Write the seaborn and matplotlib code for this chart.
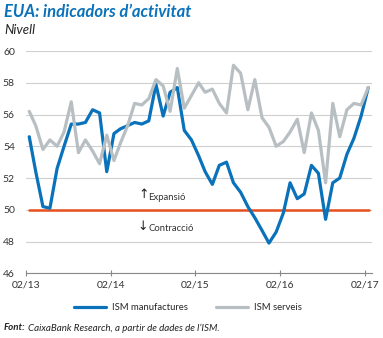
import matplotlib
matplotlib.use("Agg")
import matplotlib.pyplot as plt
import seaborn as sns
import pandas as pd
import numpy as np

# ---- data ----
start_month = "2013-02-01"
n_months = 49
manufactures = [54.6, 52.4, 50.2, 50.1, 52.6, 54.0, 55.4, 55.4, 55.5, 56.3, 56.1, 52.4,
                54.8, 55.1, 55.3, 55.5, 55.4, 55.6, 57.9, 55.9, 57.4, 57.7, 55.0, 54.4,
                53.4, 52.4, 51.6, 52.8, 53.0, 51.7, 51.1, 50.2, 49.5, 48.7, 47.9, 48.6,
                49.8, 51.7, 50.7, 51.0, 52.8, 52.3, 49.4, 51.7, 52.0, 53.5, 54.5, 55.9,
                57.7]
serveis = [56.2, 55.3, 53.8, 54.4, 54.0, 54.9, 56.8, 53.6, 54.4, 53.7, 52.9, 54.7,
           53.1, 54.2, 55.3, 56.7, 56.6, 57.0, 58.2, 57.8, 56.2, 58.9, 56.4, 57.2,
           58.0, 57.4, 57.6, 56.7, 56.1, 59.1, 58.6, 56.3, 58.2, 55.8, 55.2, 54.0,
           54.3, 54.9, 55.7, 53.6, 56.1, 55.0, 51.7, 56.7, 54.6, 56.3, 56.7, 56.6,
           57.7]
series_names = ["ISM manufactures", "ISM serveis"]
tick_dates = ["2013-02-01", "2014-02-01", "2015-02-01", "2016-02-01", "2017-02-01"]
tick_labels = ["02/13", "02/14", "02/15", "02/16", "02/17"]
yticks = [46, 48, 50, 52, 54, 56, 58, 60]
threshold = 50

# ---- build table ----
dates = pd.date_range(start_month, periods=n_months, freq="MS") + pd.Timedelta(days=14)
df = pd.concat([
    pd.DataFrame({"date": dates, "value": manufactures, "serie": series_names[0]}),
    pd.DataFrame({"date": dates, "value": serveis, "serie": series_names[1]}),
])

BLUE = "#0a72ba"
GRAY = "#b8bfc3"
RED = "#e5501c"

sns.set_theme(style="white")
plt.rcParams["font.family"] = ["Lato", "DejaVu Sans"]

fig = plt.figure(figsize=(3.83, 3.38), dpi=100)
ax = fig.add_axes([26 / 383, (338 - 273.3) / 338, 346 / 383, (273.3 - 51) / 338])

sns.lineplot(data=df, x="date", y="value", hue="serie",
             palette={series_names[0]: BLUE, series_names[1]: GRAY},
             hue_order=series_names, linewidth=2.3, ax=ax, legend=False, zorder=3)
lines = ax.get_lines()
lines[1].set_zorder(4)

ax.axhline(threshold, xmin=0.009, xmax=0.991, color=RED, lw=1.8, zorder=2)

ax.set_xlim(pd.Timestamp("2013-02-01"), pd.Timestamp("2017-03-03"))
ax.set_ylim(46, 60)
ax.set_yticks(yticks)
ax.set_yticklabels([str(v) for v in yticks])
ax.set_xticks([pd.Timestamp(d) for d in tick_dates])
ax.set_xticklabels(tick_labels)
ax.set_xlabel("")
ax.set_ylabel("")

ax.grid(axis="y", color="#cfcfcf", lw=0.8)
ax.grid(axis="x", visible=False)
for s in ["top", "right", "left"]:
    ax.spines[s].set_visible(False)
ax.spines["bottom"].set_color("#888888")
ax.spines["bottom"].set_linewidth(0.8)
ax.spines["bottom"].set_zorder(5)

ax.tick_params(axis="y", length=0, pad=8, labelsize=7.5, labelcolor="#333333")
ax.tick_params(axis="x", direction="inout", length=4.5, width=0.8, color="#888888",
               pad=3, labelsize=7.5, labelcolor="#333333", bottom=True)

# annotations
ax.text(pd.Timestamp("2014-06-22"), 50.98, "↑", fontsize=9,
        family=["DejaVu Sans"], ha="center", va="center", color="#222222")
ax.text(pd.Timestamp("2014-07-12"), 50.75, "Expansió", fontsize=6.8,
        ha="left", va="center", color="#333333")
ax.text(pd.Timestamp("2014-06-20"), 48.95, "↓", fontsize=9,
        family=["DejaVu Sans"], ha="center", va="center", color="#222222")
ax.text(pd.Timestamp("2014-07-12"), 48.85, "Contracció", fontsize=6.8,
        ha="left", va="center", color="#333333")

# title & subtitle
fig.text(4 / 383, 1 - 12 / 338, "EUA: indicadors d’activitat", fontsize=12,
         fontweight="bold", fontstyle="italic", color=BLUE, ha="left", va="center")
fig.text(4 / 383, 1 - 30 / 338, "Nivell", fontsize=9.5, fontstyle="italic",
         color="#222222", ha="left", va="center")

# legend
from matplotlib.lines import Line2D
handles = [Line2D([0], [0], color=BLUE, lw=2.3), Line2D([0], [0], color=GRAY, lw=2.3)]
fig.legend(handles, series_names, loc="center", bbox_to_anchor=(0.49, 1 - 308 / 338),
           ncol=2, frameon=False, fontsize=6.8, handlelength=3.4, columnspacing=3.0,
           handletextpad=0.6)

# source
fig.text(4 / 383, 1 - 328 / 338, "Font:", fontsize=7, fontweight="bold",
         fontstyle="italic", color="#222222", ha="left", va="center")
fig.text(28 / 383, 1 - 328 / 338, "CaixaBank Research, a partir de dades de l’ISM.",
         fontsize=7, fontstyle="italic", color="#222222", ha="left", va="center")

fig.savefig("out.png", dpi=100)
